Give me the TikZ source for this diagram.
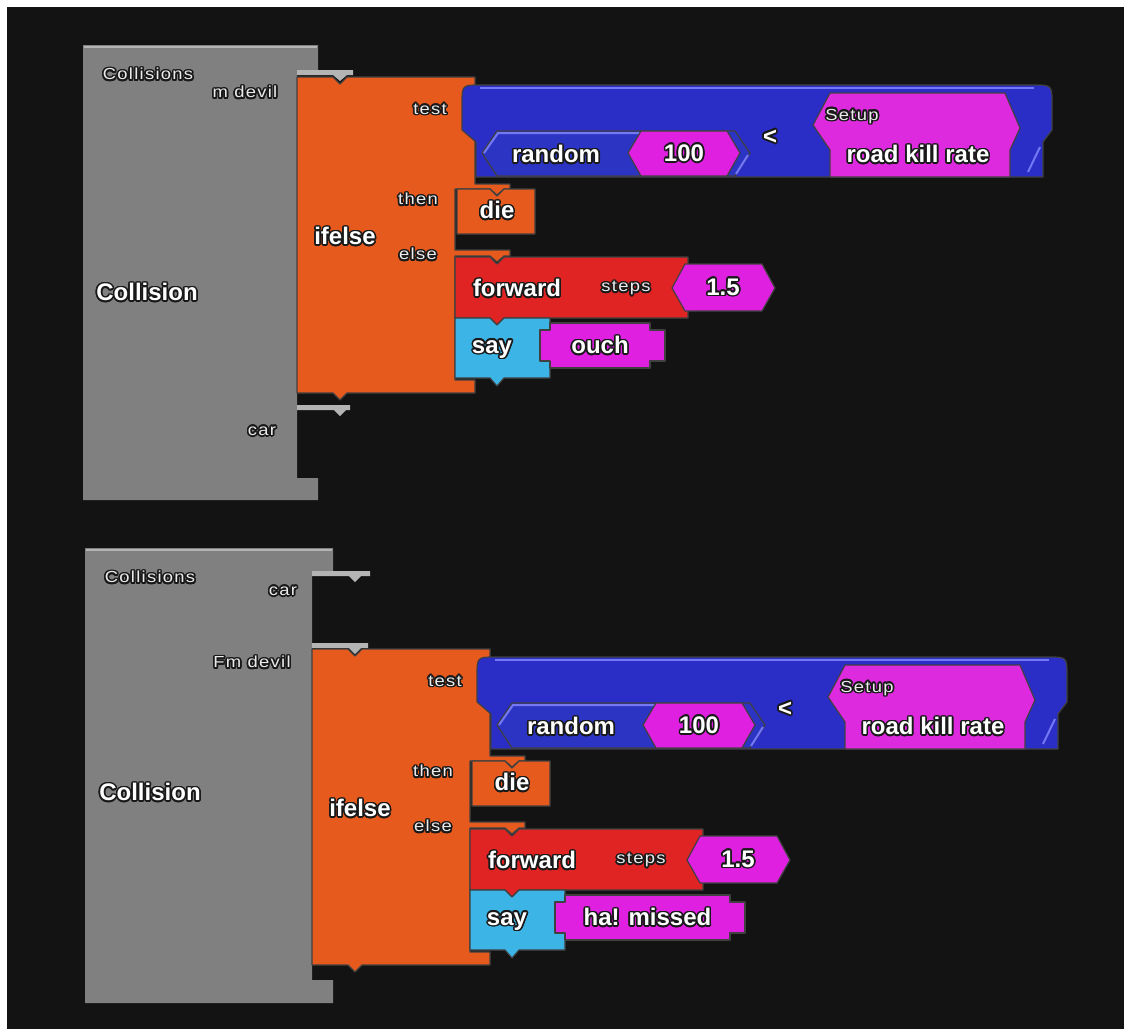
\documentclass[tikz,border=0pt]{standalone}
\usepackage{fontspec}
\usepackage{contour}
\usepackage{tikz}
\newfontfamily\blockfont{Liberation Sans}
\newfontfamily\tagfont[FakeStretch=1.15,LetterSpace=8]{Liberation Sans}
\contourlength{0.8pt}
\newcommand{\outl}[1]{\contour{black!90}{#1}}
\definecolor{bg}{HTML}{131313}
\definecolor{blockgray}{HTML}{808080}
\definecolor{lipgray}{HTML}{B4B4B4}
\definecolor{ctlorange}{HTML}{E65A1E}
\definecolor{movered}{HTML}{E02424}
\definecolor{saycyan}{HTML}{3CB4E6}
\definecolor{mathblue}{HTML}{2A2DC6}
\definecolor{randblue}{HTML}{2C34C4}
\definecolor{edgeblue}{HTML}{7478F4}
\definecolor{valmagenta}{HTML}{E020E0}
\definecolor{varmagenta}{HTML}{DE2ADE}

\begin{document}
\begin{tikzpicture}[x=0.5pt,y=-0.5pt]
  \tikzset{
    outl/.style={draw=black!75, line width=0.6pt, line join=round},
    big/.style={font=\blockfont\bfseries\fontsize{12}{14}\selectfont, text=white, inner sep=0pt},
    tag/.style={font=\tagfont\fontsize{8}{9}\selectfont, text=white!92!black, inner sep=0pt},
  }
  % backdrop
  \useasboundingbox (0,0) rectangle (1124,1028);
  \fill[white] (-10,-10) rectangle (1134,1038);
  \fill[bg] (7,7) rectangle (1134,1038);

  % first collision block: m devil, then car
  \fill[blockgray] (83,45) -- (318,45) -- (318,72) -- (297,72) -- (297,478)
    -- (318,478) -- (318,500) -- (83,500) -- cycle;
  \draw[lipgray, line width=1pt] (84,46.5) -- (317,46.5);
  \fill[lipgray] (297,70) -- (353,70) -- (353,75) -- (347,75) -- (340,81)
    -- (333,75) -- (297,75) -- cycle;
  \fill[lipgray] (297,405) -- (350,405) -- (350,410) -- (346,410) -- (340,416)
    -- (334,410) -- (297,410) -- cycle;
  \node[tag] (coll1) at (148,75) {\outl{Collisions}};
  \node[tag] (devil1) at (245,93) {\outl{m devil}};
  \node[big] (name1) at (147,293) {\outl{Collision}};
  \node[tag] (car1) at (262,432) {\outl{car}};

  % second collision block: car, then Fm devil
  \fill[blockgray] (85,548) -- (333,548) -- (333,573) -- (312,573) -- (312,980)
    -- (333,980) -- (333,1003) -- (85,1003) -- cycle;
  \draw[lipgray, line width=1pt] (86,549.5) -- (332,549.5);
  \fill[lipgray] (312,571) -- (370,571) -- (370,576) -- (361,576) -- (355,582)
    -- (349,576) -- (312,576) -- cycle;
  \fill[lipgray] (312,643) -- (368,643) -- (368,648) -- (361,648) -- (355,654)
    -- (349,648) -- (312,648) -- cycle;
  \node[tag] (coll2) at (150,578) {\outl{Collisions}};
  \node[tag] (car2) at (283,592) {\outl{car}};
  \node[tag] (devil2) at (252,663) {\outl{Fm devil}};
  \node[big] (name2) at (150,793) {\outl{Collision}};

  % the two ifelse stacks
  \foreach \dx/\dy/\id/\saytxt/\strend in {0/0/a/ouch/665, 15/572/b/ha! missed/730} {
    \begin{scope}[shift={(\dx,\dy)}]
      \filldraw[ctlorange, outl] (297,77) -- (333,77) -- (340,84) -- (347,77)
        -- (475,77) -- (475,184) -- (510,184) -- (510,189) -- (504,189)
        -- (497,195) -- (490,189) -- (455,189) -- (455,250) -- (510,250)
        -- (510,256) -- (504,256) -- (497,262) -- (490,256) -- (455,256)
        -- (455,380) -- (475,380) -- (475,393) -- (347,393) -- (340,400)
        -- (333,393) -- (297,393) -- cycle;
      \node[big] (ifelse\id) at (345,237) {\outl{ifelse}};
      \node[tag] (test\id) at (430,110) {\outl{test}};
      \node[tag] (then\id) at (418,200) {\outl{then}};
      \node[tag] (else\id) at (418,255) {\outl{else}};

      % then: die
      \filldraw[ctlorange, outl] (457,189) -- (490,189) -- (497,196) -- (504,189)
        -- (535,189) -- (535,234) -- (457,234) -- cycle;
      \node[big] (die\id) at (497,211) {\outl{die}};

      % else: forward, say
      \filldraw[movered, outl] (455,257) -- (490,257) -- (497,264) -- (504,257)
        -- (688,257) -- (688,318) -- (504,318) -- (497,325) -- (490,318)
        -- (455,318) -- cycle;
      \filldraw[valmagenta, outl] (672,288) -- (685,264) -- (762,264) -- (775,288)
        -- (762,311) -- (685,311) -- cycle;
      \node[big] (fwd\id) at (517,289) {\outl{forward}};
      \node[tag] (steps\id) at (626,289) {\outl{steps}};
      \node[big] (dist\id) at (723,288) {\outl{1.5}};

      \filldraw[saycyan, outl] (455,318) -- (490,318) -- (497,325) -- (504,318)
        -- (550,318) -- (550,378) -- (504,378) -- (497,386) -- (490,378)
        -- (455,378) -- cycle;
      \filldraw[valmagenta, outl] (540,330) -- (550,330) -- (550,323)
        -- (\strend-15,323) -- (\strend-15,330) -- (\strend,330) -- (\strend,361)
        -- (\strend-15,361) -- (\strend-15,368) -- (550,368) -- (550,361)
        -- (540,361) -- cycle;
      \node[big] (say\id) at (492,350) {\outl{say}};
      \node[big] (str\id) at ({(535+\strend)/2},346) {\outl{\saytxt}};

      % test: random 100 < road kill rate
      \filldraw[mathblue, outl] (476,177) -- (476,142) -- (462,130) -- (462,104)
        .. controls (462,85) .. (481,85) -- (1033,85)
        .. controls (1052,85) .. (1052,104) -- (1052,130) -- (1043,142)
        -- (1043,177) -- cycle;
      \draw[edgeblue, line width=1.2pt] (480,88) -- (1034,88);
      \draw[edgeblue, line width=1pt] (1040,147) -- (1028,172);
      \filldraw[randblue, outl] (482,153) -- (497,131) -- (735,131) -- (750,153)
        -- (735,176) -- (497,176) -- cycle;
      \draw[edgeblue, line width=1pt] (484,153) -- (498,133) -- (640,133);
      \draw[edgeblue, line width=1pt] (748,155) -- (736,174);
      \filldraw[valmagenta, outl] (628,153) -- (641,131) -- (727,131) -- (740,153)
        -- (727,176) -- (641,176) -- cycle;
      \filldraw[varmagenta, outl] (830,93) -- (1005,93) -- (1020,128) -- (1010,150)
        -- (1010,177) -- (830,177) -- (830,150) -- (813,125) -- cycle;
      \node[big] (rand\id) at (556,155) {\outl{random}};
      \node[big] (hund\id) at (684,154) {\outl{100}};
      \node[big] (less\id) at (770,138) {\outl{<}};
      \node[tag] (setup\id) at (852,117) {\outl{Setup}};
      \node[big] (rate\id) at (918,155) {\outl{road kill rate}};
    \end{scope}
  }
\end{tikzpicture}
\end{document}
